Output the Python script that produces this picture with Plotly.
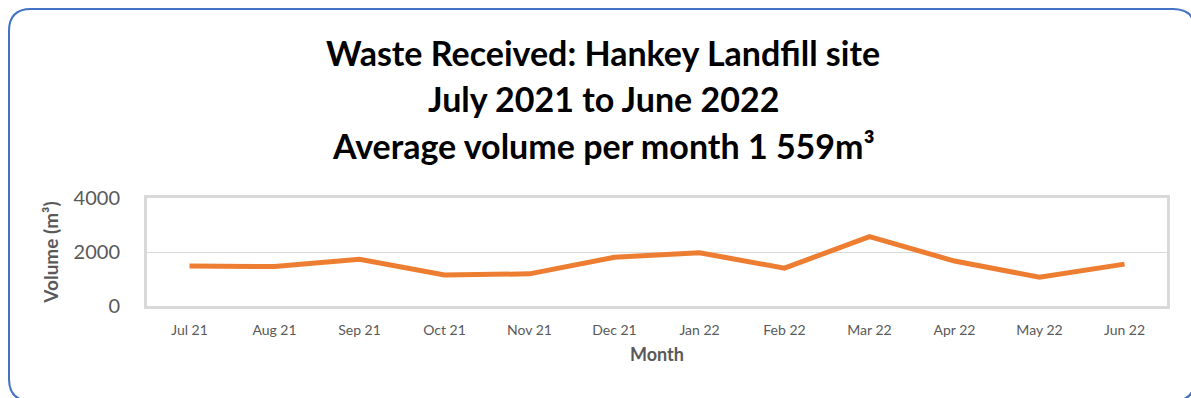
import plotly.graph_objects as go

# Monthly waste volumes received (m³)
months = ["Jul 21", "Aug 21", "Sep 21", "Oct 21", "Nov 21", "Dec 21",
          "Jan 22", "Feb 22", "Mar 22", "Apr 22", "May 22", "Jun 22"]
volumes = [1477, 1460, 1727, 1152, 1190, 1802, 1974, 1402, 2572, 1664, 1065, 1551]
y_ticks = [0, 2000, 4000]

title_lines = [
    "Waste Received: Hankey Landfill site",
    "July 2021 to June 2022",
    "Average volume per month 1 559m³",
]

W, H = 1191, 398
ML, MR, MT, MB = 147, 24, 198, 92

FONT = "Lato"
GREY = "#595959"
FRAME = "#D9D9D9"

fig = go.Figure(
    go.Scatter(
        x=months,
        y=volumes,
        mode="lines",
        line=dict(color="#ED7D31", width=5),
        hoverinfo="x+y",
    )
)

# Rounded outer frame, built in pixel space then mapped to paper coordinates
pw, ph = W - ML - MR, H - MT - MB


def px(x):
    return (x - ML) / pw


def py(y):
    return (H - MB - y) / ph


x0, y0, x1, y1, r = 9, 9, 1195, 401, 22
path = (
    f"M {px(x0 + r)} {py(y0)} L {px(x1 - r)} {py(y0)} "
    f"Q {px(x1)} {py(y0)} {px(x1)} {py(y0 + r)} "
    f"L {px(x1)} {py(y1 - r)} Q {px(x1)} {py(y1)} {px(x1 - r)} {py(y1)} "
    f"L {px(x0 + r)} {py(y1)} Q {px(x0)} {py(y1)} {px(x0)} {py(y1 - r)} "
    f"L {px(x0)} {py(y0 + r)} Q {px(x0)} {py(y0)} {px(x0 + r)} {py(y0)} Z"
)
fig.add_shape(type="path", path=path, xref="paper", yref="paper",
              line=dict(color="#4472C4", width=2), layer="below")

# Three-line title
for text, yc in zip(title_lines, [52, 99, 145]):
    fig.add_annotation(
        text=f"<b>{text}</b>",
        xref="paper", yref="paper",
        x=px(603), y=py(yc),
        xanchor="center", yanchor="middle",
        showarrow=False,
        font=dict(family=FONT, size=34, color="#000000"),
    )

fig.update_layout(
    width=W, height=H,
    margin=dict(l=ML, r=MR, t=MT, b=MB),
    paper_bgcolor="white",
    plot_bgcolor="white",
    showlegend=False,
    font=dict(family=FONT, color=GREY),
)

fig.update_xaxes(
    type="category",
    range=[-0.5, len(months) - 0.5],
    showline=True, mirror=True, linecolor=FRAME, linewidth=3,
    showgrid=False, ticks="",
    tickfont=dict(size=14, color=GREY),
    ticklabelstandoff=9,
    title=dict(text="<b>Month</b>", font=dict(size=18, color=GREY), standoff=12),
)

fig.update_yaxes(
    range=[0, 4000],
    tickvals=y_ticks,
    showline=True, mirror=True, linecolor=FRAME, linewidth=3,
    showgrid=True, gridcolor=FRAME, gridwidth=1,
    zeroline=False, ticks="",
    tickfont=dict(size=20, color=GREY),
    ticklabelstandoff=20,
    title=dict(text="<b>Volume (m³)</b>", font=dict(size=19, color=GREY), standoff=10),
)

fig.write_html("out.html")
